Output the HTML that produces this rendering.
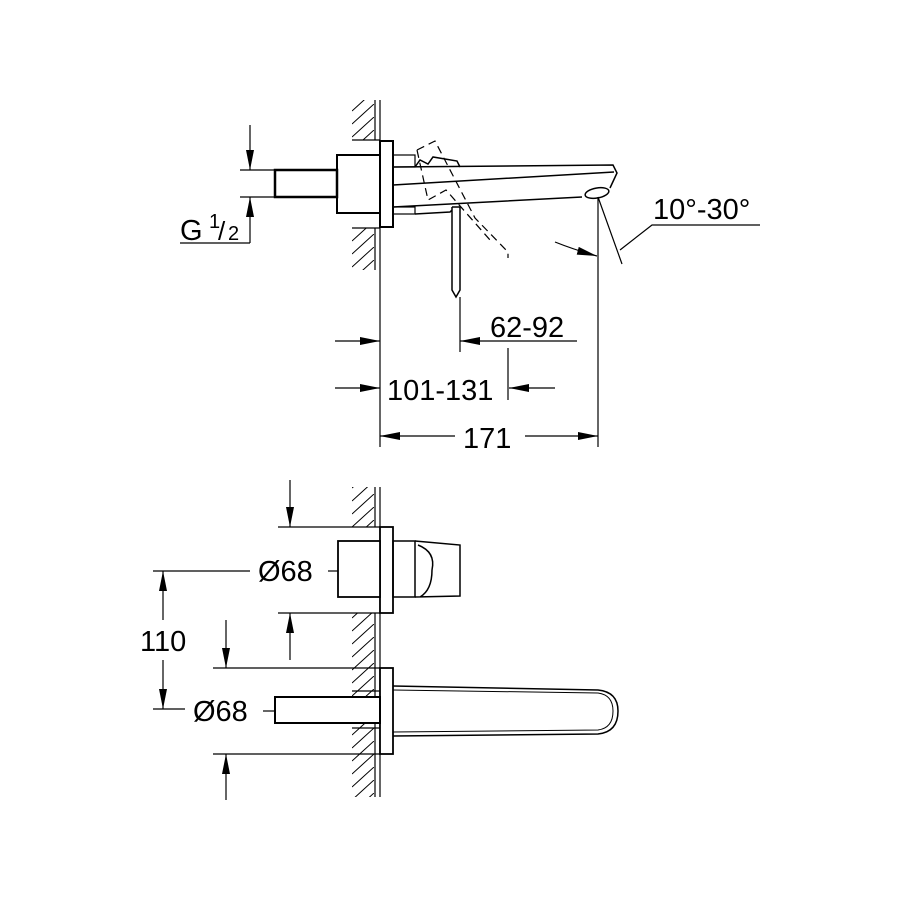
<!DOCTYPE html>
<html><head><style>body{margin:0;background:#fff}svg{display:block}</style></head><body>
<svg width="900" height="900" viewBox="0 0 900 900" xmlns="http://www.w3.org/2000/svg" font-family="Liberation Sans, sans-serif">
<defs>
<marker id="a" viewBox="0 0 20 8" refX="20" refY="4" markerWidth="20" markerHeight="8" markerUnits="userSpaceOnUse" orient="auto"><path d="M0,0 L20,4 L0,8z" fill="#000"/></marker>
<pattern id="h" width="22" height="13" patternUnits="userSpaceOnUse"><path d="M0,20 L22,0 M0,7 L22,-13" stroke="#000" stroke-width="1"/></pattern>
</defs>
<g fill="none" stroke="#000" stroke-width="1.2">
<!-- TOP VIEW -->
<rect x="352" y="100" width="22" height="40" fill="url(#h)" stroke="none"/>
<rect x="352" y="228" width="22" height="42" fill="url(#h)" stroke="none"/>
<line x1="375" y1="100" x2="375" y2="140"/><line x1="375" y1="228" x2="375" y2="270"/>
<line x1="352" y1="140" x2="380" y2="140"/><line x1="352" y1="228" x2="380" y2="228"/>
<line x1="380" y1="100" x2="380" y2="447"/>
<rect x="380" y="141" width="13" height="86" stroke-width="2"/>
<rect x="337" y="155" width="43" height="58" stroke-width="2"/>
<rect x="275" y="170" width="62" height="27" stroke-width="2.5"/>
<line x1="240" y1="170" x2="275" y2="170"/><line x1="240" y1="197" x2="275" y2="197"/>
<line x1="250" y1="125" x2="250" y2="170" marker-end="url(#a)"/>
<line x1="250" y1="243" x2="250" y2="197" marker-end="url(#a)"/>
<polyline points="180,243 250,243"/>
<rect x="393" y="155" width="22" height="12" />
<rect x="393" y="207" width="22" height="7"/>
<path d="M393,167 L613,165 L617,173 L610,188 M393,207 L582,197 M393,185 L614,172" stroke-width="1.5"/>
<path d="M415,167 L420,160 L428,164 L433,157 L457,161 L460,167" stroke-width="1.5"/>
<ellipse cx="597" cy="193" rx="12" ry="5" transform="rotate(-10 597 193)" stroke-width="1.5"/>
<path d="M415,214 L450,212 L452,210 M452,207 L460,207 L460,290 L456,297 L452,290 L452,207" stroke-width="1.5"/>
<path d="M417,150 L435,141 L475,218 L508,252 L508,258 M417,150 L428,200 L446,190 L490,240" stroke-dasharray="8,5"/>
<line x1="460" y1="297" x2="460" y2="352"/>
<line x1="508" y1="348" x2="508" y2="400"/>
<line x1="598" y1="197" x2="598" y2="447"/>
<line x1="598" y1="197" x2="622" y2="264"/>
<path d="M555,242 Q575,250 597,256" marker-end="url(#a)"/>
<polyline points="620,250 652,225 760,225"/>
<line x1="577" y1="341" x2="460" y2="341" marker-end="url(#a)"/>
<line x1="335" y1="341" x2="380" y2="341" marker-end="url(#a)"/>
<line x1="335" y1="388" x2="380" y2="388" marker-end="url(#a)"/>
<line x1="555" y1="388" x2="509" y2="388" marker-end="url(#a)"/>
<line x1="455" y1="436" x2="380" y2="436" marker-end="url(#a)"/>
<line x1="525" y1="436" x2="598" y2="436" marker-end="url(#a)"/>
<!-- BOTTOM VIEW -->
<rect x="352" y="487" width="22" height="40" fill="url(#h)" stroke="none"/>
<rect x="352" y="613" width="22" height="184" fill="url(#h)" stroke="none"/>
<line x1="375" y1="487" x2="375" y2="527"/><line x1="375" y1="613" x2="375" y2="797"/>
<line x1="380" y1="487" x2="380" y2="797"/>
<rect x="380" y="527" width="13" height="86" stroke-width="1.8" fill="#fff"/>
<rect x="338" y="541" width="42" height="56" stroke-width="1.8" fill="#fff"/>
<rect x="393" y="541" width="22" height="56" stroke-width="1.5"/>
<path d="M415,541 L460,545 L460,596 L415,597 M418,545 Q436,552 432,570 Q432,590 420,597" stroke-width="1.5"/>
<line x1="278" y1="527" x2="380" y2="527"/><line x1="278" y1="613" x2="380" y2="613"/>
<line x1="290" y1="480" x2="290" y2="527" marker-end="url(#a)"/>
<line x1="290" y1="660" x2="290" y2="613" marker-end="url(#a)"/>
<line x1="328" y1="571" x2="338" y2="571"/>
<line x1="153" y1="571" x2="250" y2="571"/><line x1="153" y1="709" x2="185" y2="709"/>
<line x1="163" y1="620" x2="163" y2="571" marker-end="url(#a)"/>
<line x1="163" y1="660" x2="163" y2="709" marker-end="url(#a)"/>
<rect x="380" y="668" width="13" height="86" stroke-width="1.8" fill="#fff"/>
<rect x="275" y="697" width="105" height="26" stroke-width="2" fill="#fff"/>
<line x1="352" y1="691" x2="380" y2="691"/><line x1="352" y1="728" x2="380" y2="728"/>
<line x1="213" y1="668" x2="380" y2="668"/><line x1="213" y1="754" x2="380" y2="754"/>
<line x1="226" y1="620" x2="226" y2="668" marker-end="url(#a)"/>
<line x1="226" y1="800" x2="226" y2="754" marker-end="url(#a)"/>
<line x1="263" y1="711" x2="275" y2="711"/>
<path d="M393,686 L598,690 Q618,692 618,711 Q618,732 598,734 L393,736" stroke-width="1.5"/>
<path d="M393,690 L598,693 Q613,695 613,711 Q613,728 598,730 L393,732" stroke-width="1"/>
</g>
<g font-size="29" fill="#000">
<text x="180" y="240">G</text><text x="209" y="228" font-size="20">1</text><text x="218" y="240" font-size="26">/</text><text x="228" y="240" font-size="20">2</text>
<text x="653" y="219">10°-30°</text>
<text x="490" y="337">62-92</text>
<text x="387" y="400">101-131</text>
<text x="463" y="448">171</text>
<text x="258" y="581">Ø68</text>
<text x="140" y="651">110</text>
<text x="193" y="721">Ø68</text>
</g>
</svg>
</body></html>
